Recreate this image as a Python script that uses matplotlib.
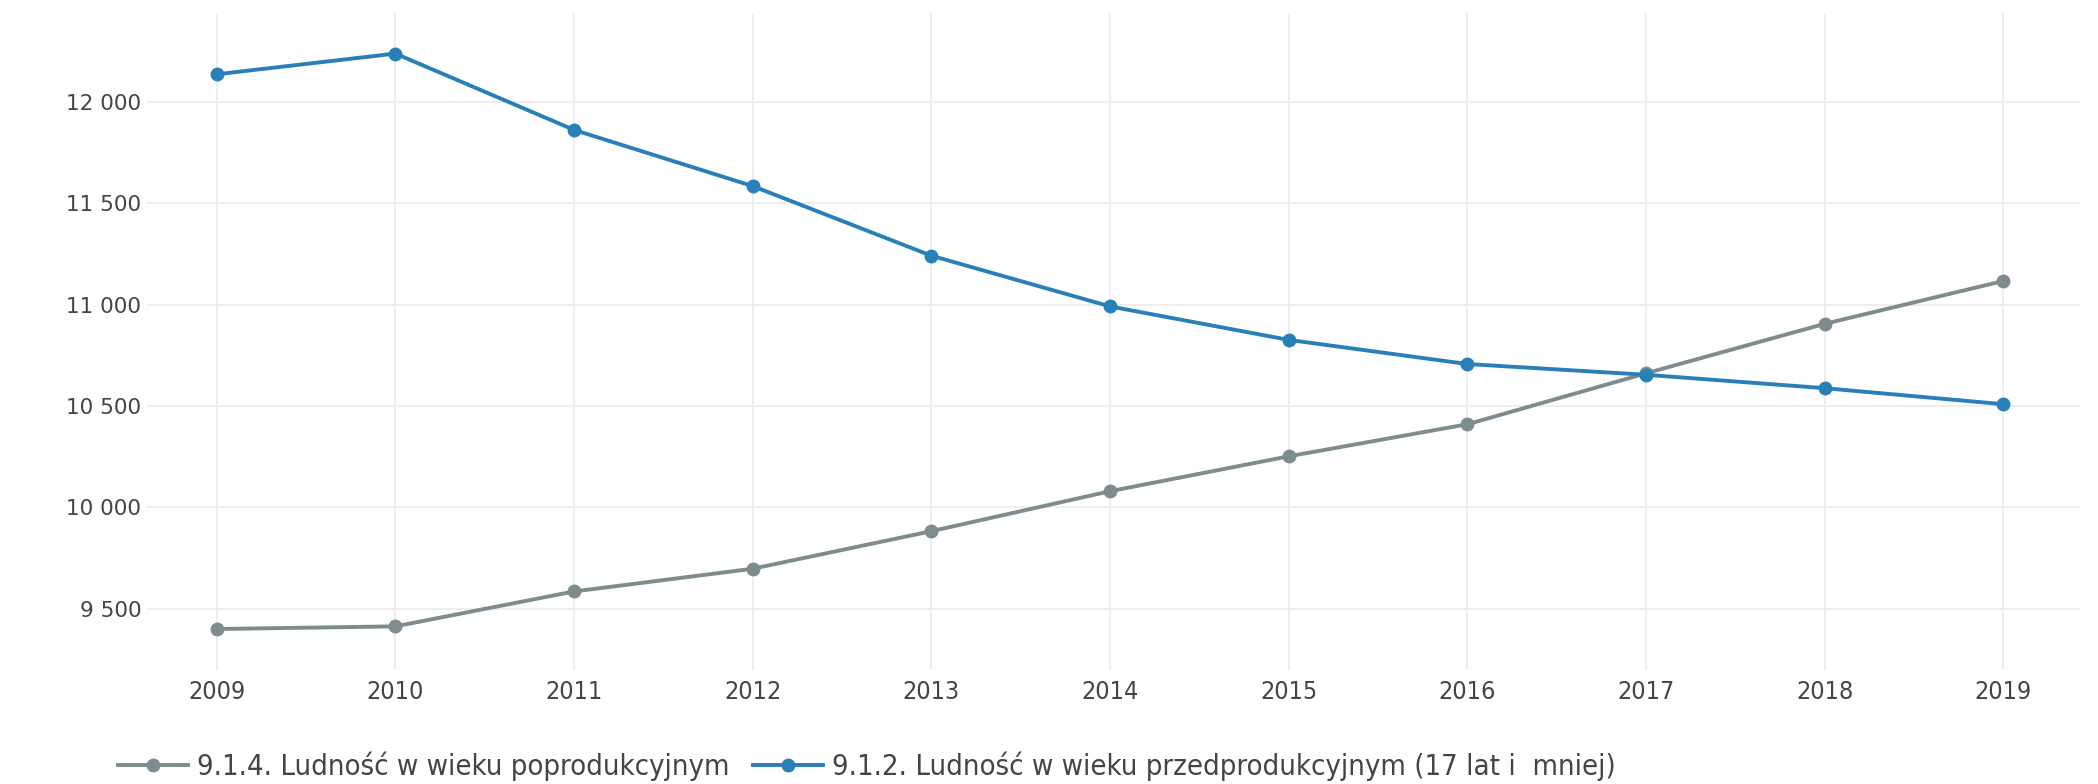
import matplotlib
matplotlib.use("Agg")
import matplotlib.pyplot as plt
from matplotlib.ticker import FuncFormatter
from matplotlib import font_manager

# dane
years = [2009, 2010, 2011, 2012, 2013, 2014, 2015, 2016, 2017, 2018, 2019]
poprodukcyjny = [9401, 9414, 9586, 9698, 9883, 10080, 10252, 10410, 10661, 10905, 11116]
przedprodukcyjny = [12135, 12237, 11861, 11584, 11241, 10991, 10826, 10707, 10654, 10588, 10509]
labels = ["9.1.4. Ludność w wieku poprodukcyjnym",
          "9.1.2. Ludność w wieku przedprodukcyjnym (17 lat i  mniej)"]
colors = ["#7f8c8d", "#2980b9"]

narrow = font_manager.FontProperties(family="DejaVu Sans", stretch="condensed", size=18)
narrow_leg = font_manager.FontProperties(family="DejaVu Sans", stretch="condensed", size=21)

fig = plt.figure(figsize=(20.98, 7.84), dpi=100)
ax = fig.add_axes([147 / 2098, 1 - 670 / 784, (2080 - 147) / 2098, (670 - 13) / 784])

for vals, lab, col in zip([poprodukcyjny, przedprodukcyjny], labels, colors):
    ax.plot(years, vals, color=col, lw=2.8, marker="o", ms=9, label=lab)

ax.set_xlim(2008.61, 2019.43)
ax.set_ylim(9199, 12437)
ax.set_xticks(years)
ax.set_yticks([9500, 10000, 10500, 11000, 11500, 12000])
ax.yaxis.set_major_formatter(FuncFormatter(lambda v, p: f"{int(v):,}".replace(",", " ")))
ax.grid(True, color="#eeeeee", lw=1.5)
ax.set_axisbelow(True)
for s in ax.spines.values():
    s.set_visible(False)
ax.tick_params(length=0)
ax.tick_params(axis="y", labelsize=15.5, labelcolor="#444444", pad=4)
ax.tick_params(axis="x", labelcolor="#444444", pad=7)
for t in ax.get_xticklabels():
    t.set_fontproperties(narrow)
    t.set_color("#444444")

leg = fig.legend(loc="lower left", bbox_to_anchor=(98 / 2098, -0.022), ncol=2,
                 frameon=False, prop=narrow_leg, borderaxespad=0.3,
                 handlelength=2.4, handletextpad=0.3, columnspacing=0.8)
for t in leg.get_texts():
    t.set_color("#444444")

fig.savefig("out.png", dpi=100)
